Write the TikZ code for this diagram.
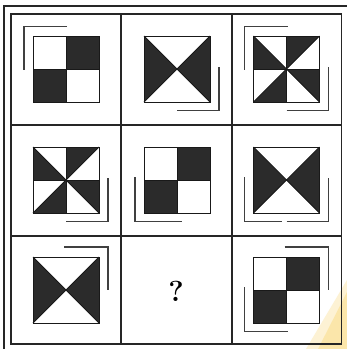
\documentclass[tikz,border=0pt]{standalone}
\usepackage{fontspec}
\usetikzlibrary{calc}
\definecolor{darkfill}{HTML}{2B2B2B}
\definecolor{glow}{HTML}{FBE3A0}
\tikzset{
  gridline/.style={line width=1.2pt, draw=black!85},
  sqline/.style={line width=1pt, draw=black!90},
  darkpart/.style={fill=darkfill},
  bracketline/.style={line width=1.2pt, draw=black!75},
}
\newcommand{\ckSquare}[2]{%
  \fill[darkpart] (#1,#2-33) rectangle (#1+33,#2);
  \fill[darkpart] (#1-33,#2) rectangle (#1,#2+33);
  \draw[sqline] (#1-33,#2-33) rectangle (#1+33,#2+33);
  \draw[sqline] (#1,#2-33) -- (#1,#2+33) (#1-33,#2) -- (#1+33,#2);
}
\newcommand{\hgSquare}[2]{%
  \fill[darkpart] (#1-33,#2-33) -- (#1,#2) -- (#1-33,#2+33) -- cycle;
  \fill[darkpart] (#1+33,#2-33) -- (#1,#2) -- (#1+33,#2+33) -- cycle;
  \draw[sqline] (#1-33,#2-33) rectangle (#1+33,#2+33);
  \draw[sqline] (#1-33,#2-33) -- (#1+33,#2+33) (#1+33,#2-33) -- (#1-33,#2+33);
}
\newcommand{\pwSquare}[2]{%
  \fill[darkpart] (#1-33,#2-33) -- (#1-33,#2) -- (#1,#2) -- cycle;
  \fill[darkpart] (#1,#2-33) -- (#1+33,#2-33) -- (#1,#2) -- cycle;
  \fill[darkpart] (#1,#2) -- (#1+33,#2) -- (#1+33,#2+33) -- cycle;
  \fill[darkpart] (#1,#2) -- (#1-33,#2+33) -- (#1,#2+33) -- cycle;
  \draw[sqline] (#1-33,#2-33) rectangle (#1+33,#2+33);
  \draw[sqline] (#1,#2-33) -- (#1,#2+33) (#1-33,#2) -- (#1+33,#2);
  \draw[sqline] (#1-33,#2-33) -- (#1+33,#2+33) (#1+33,#2-33) -- (#1-33,#2+33);
}
% brackets: corner offset 42, arms back to (near) the centre lines
\newcommand{\brUL}[2]{\draw[bracketline] (#1+1,#2-42.5) -- (#1-42,#2-42.5) -- (#1-42,#2+1);}
\newcommand{\brUR}[2]{\draw[bracketline] (#1-2,#2-43) -- (#1+42,#2-43) -- (#1+42,#2);}
\newcommand{\brLR}[3]{\draw[bracketline] (#1+#3,#2+41.5) -- (#1+42,#2+41.5) -- (#1+42,#2-2);}
\newcommand{\brLL}[3]{\draw[bracketline] (#1-42,#2-3) -- (#1-42,#2+41.5) -- (#1+#3,#2+41.5);}
\begin{document}
\begin{tikzpicture}[x=1pt,y=-1pt]
\useasboundingbox (0,0) rectangle (347,349);
\fill[white] (0,0) rectangle (347,349);
\clip (0,0) rectangle (347,349);
% glow
\fill[glow, opacity=0.45] (347,280) -- (347,349) -- (306,349) -- cycle;
\fill[glow, opacity=0.8] (347,292) -- (347,349) -- (318,349) -- cycle;
% outer frame (double line)
\draw[gridline] (4,6) rectangle (353,356);
\draw[gridline] (11,14) rectangle (341.5,344);
\draw[gridline] (121,14) -- (121,344) (232,14) -- (232,344);
\draw[gridline] (11,125) -- (341.5,125) (11,236) -- (341.5,236);
% row 1
\ckSquare{66}{69}   \brUL{66}{69}
\hgSquare{177}{69}  \brLR{177}{69}{0}
\pwSquare{286.5}{69} \brUL{286.5}{69} \brLR{286.5}{69}{0}
% row 2
\pwSquare{66}{180}  \brLR{66}{180}{0}
\ckSquare{177}{180} \brLL{177}{180}{5}
\hgSquare{286.5}{180} \brLL{286.5}{180}{-5} \brLR{286.5}{180}{0}
% row 3
\hgSquare{66}{290}  \brUR{66}{290}
\node (q) at (176,291) {\fontsize{29}{29}\selectfont\bfseries ?};
\ckSquare{286.5}{290} \brUR{286.5}{290} \brLL{286.5}{290}{1}
\end{tikzpicture}
\end{document}
